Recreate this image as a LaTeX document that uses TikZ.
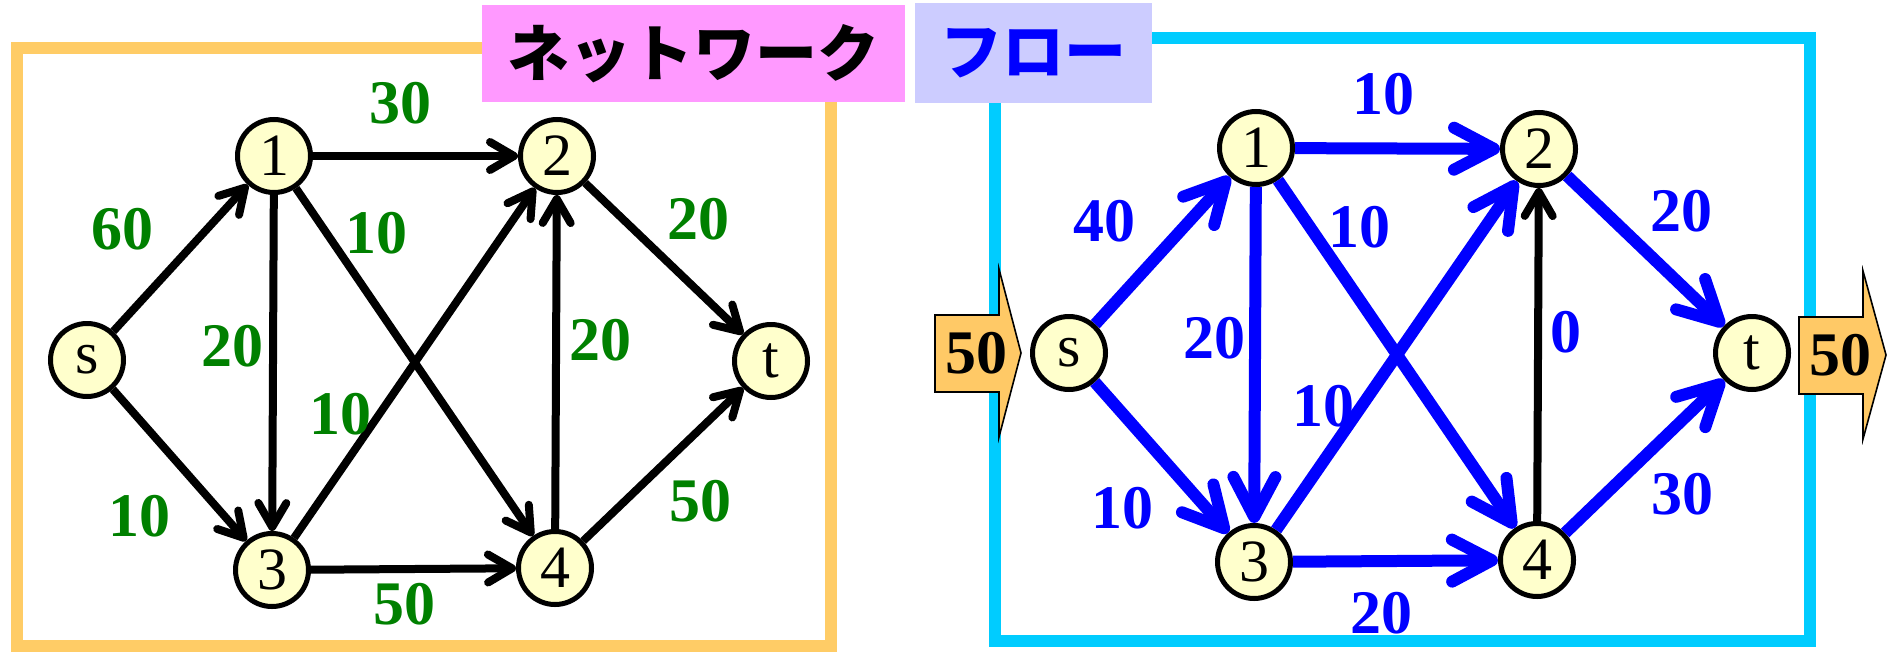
\documentclass[tikz,border=0pt]{standalone}
\usepackage{fontspec}
\setmainfont{Liberation Serif}
\newfontfamily\cjk{Noto Sans CJK JP}
\usetikzlibrary{arrows.meta}
\definecolor{nodefill}{HTML}{FFFFCC}
\definecolor{capgreen}{HTML}{008000}
\definecolor{flowblue}{HTML}{0000FF}
\definecolor{orangeframe}{HTML}{FFCC66}
\definecolor{cyanframe}{HTML}{00CCFF}
\definecolor{pinkbox}{HTML}{FF99FF}
\definecolor{lavbox}{HTML}{CCCCFF}
\definecolor{arrowfill}{HTML}{FFC966}
\begin{document}
\begin{tikzpicture}[x=0.5pt,y=-0.5pt,
  vert/.style={circle, draw=black, line width=2.5pt, fill=nodefill,
    minimum size=36.5pt, inner sep=0pt, font=\fontsize{30}{30}\selectfont},
  blk/.style={draw=black, line width=4pt, -{Straight Barb[length=12pt,width=14pt,round]}},
  blu/.style={draw=flowblue, line width=6pt, -{Straight Barb[length=20pt,width=21pt,round]}},
  caplbl/.style={font=\fontsize{31}{31}\selectfont\bfseries, text=capgreen, inner sep=0pt},
  flwlbl/.style={font=\fontsize{31}{31}\selectfont\bfseries, text=flowblue, inner sep=0pt},
  frameline/.style={line width=6pt},
  flowarrow/.style={fill=arrowfill, draw=black, line width=0.8pt, line join=miter},
  titlebox/.style={inner sep=0pt, font=\fontsize{31}{31}\selectfont\cjk\bfseries}
]
\useasboundingbox (0,0) rectangle (1888,653);

% frames
\draw[frameline, orangeframe] (17,48) rectangle (831,646);
\draw[frameline, cyanframe] (995,38) rectangle (1810,641);

% title boxes
\node[titlebox, fill=pinkbox, minimum width=211.5pt, minimum height=48.5pt, text=black] (tnet) at (693.5,53.5) {ネットワーク};
\node[titlebox, fill=lavbox, minimum width=118.5pt, minimum height=50pt, text=flowblue] (tflow) at (1033.5,53) {フロー};

% left network
\node[vert] (ls) at (87,360) {s};
\node[vert] (l1) at (274,156) {1};
\node[vert] (l2) at (557,156) {2};
\node[vert] (lt) at (771,361) {t};
\node[vert] (l3) at (272,570) {3};
\node[vert] (l4) at (555,568) {4};

\draw[blk] (ls) -- (l1);
\draw[blk] (ls) -- (l3);
\draw[blk] (l1) -- (l2);
\draw[blk] (l1) -- (l3);
\draw[blk] (l1) -- (l4);
\draw[blk] (l3) -- (l2);
\draw[blk] (l2) -- (lt);
\draw[blk] (l4) -- (l2);
\draw[blk] (l3) -- (l4);
\draw[blk] (l4) -- (lt);

\node[caplbl] (c1) at (122,229) {60};
\node[caplbl] (c2) at (400,103) {30};
\node[caplbl] (c3) at (376,233) {10};
\node[caplbl] (c4) at (698,219) {20};
\node[caplbl] (c5) at (232,346) {20};
\node[caplbl] (c6) at (600,340) {20};
\node[caplbl] (c7) at (340,414) {10};
\node[caplbl] (c8) at (139,516) {10};
\node[caplbl] (c9) at (700,501) {50};
\node[caplbl] (c10) at (404,604) {50};

% right flow
\node[vert] (rs) at (1069,353) {s};
\node[vert] (r1) at (1256,148) {1};
\node[vert] (r2) at (1539,149) {2};
\node[vert] (rt) at (1752,353) {t};
\node[vert] (r3) at (1254,562) {3};
\node[vert] (r4) at (1537,560) {4};

\draw[blu] (rs) -- (r1);
\draw[blu] (rs) -- (r3);
\draw[blu] (r1) -- (r2);
\draw[blu] (r1) -- (r3);
\draw[blu] (r1) -- (r4);
\draw[blu] (r3) -- (r2);
\draw[blu] (r2) -- (rt);
\draw[blk] (r4) -- (r2);
\draw[blu] (r3) -- (r4);
\draw[blu] (r4) -- (rt);

\node[flwlbl] (f1) at (1383,94) {10};
\node[flwlbl] (f2) at (1104,221) {40};
\node[flwlbl] (f3) at (1359,227) {10};
\node[flwlbl] (f4) at (1681,211) {20};
\node[flwlbl] (f5) at (1214,338) {20};
\node[flwlbl] (f6) at (1566,332) {0};
\node[flwlbl] (f7) at (1323,406) {10};
\node[flwlbl] (f8) at (1122,508) {10};
\node[flwlbl] (f9) at (1682,494) {30};
\node[flwlbl] (f10) at (1381,613) {20};

% in/out arrows
\draw[flowarrow] (935,315) -- (999,315) -- (999,269) -- (1021,353) -- (999,437) -- (999,392) -- (935,392) -- cycle;
\draw[flowarrow] (1799,317) -- (1863,317) -- (1863,271) -- (1886,355) -- (1863,439) -- (1863,394) -- (1799,394) -- cycle;
\node[font=\fontsize{31}{31}\selectfont\bfseries, inner sep=0pt] (in50) at (976,353) {50};
\node[font=\fontsize{31}{31}\selectfont\bfseries, inner sep=0pt] (out50) at (1840,355) {50};
\end{tikzpicture}
\end{document}
